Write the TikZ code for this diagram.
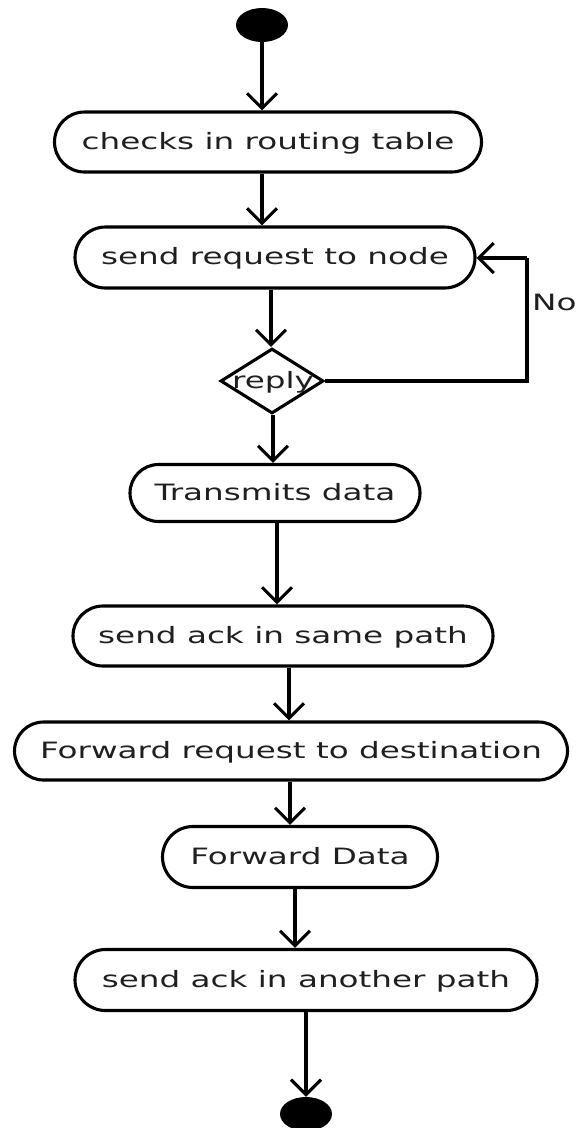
\documentclass[tikz,border=0pt]{standalone}
\usepackage{fontspec}
\setmainfont[FakeStretch=1.45]{DejaVu Sans}
\usetikzlibrary{arrows.meta,shapes.misc,shapes.geometric}
\tikzset{
  box/.style={rounded rectangle, draw=black, line width=3.1pt, inner sep=0pt,
    font=\fontsize{22.5}{27}\selectfont, text=black!88, text height=14pt, text depth=0pt},
  dot/.style={ellipse, fill=black, draw=none, minimum width=52pt, minimum height=34pt, inner sep=0pt},
  dec/.style={diamond, draw=black, line width=3.1pt, inner sep=0pt, minimum width=103pt, minimum height=65pt},
  lbl/.style={font=\fontsize{22.5}{27}\selectfont, text=black!88, inner sep=0pt},
  arr/.style={line width=3.1pt, -{Straight Barb[length=15pt,width=30pt]}},
  ln/.style={line width=3.1pt}
}
\begin{document}
\begin{tikzpicture}[x=1pt,y=1pt]
\useasboundingbox (0,0) rectangle (577,-1128);
\node[dot] (start) at (262,-25) {};
\node[box, minimum width=427pt, minimum height=60pt] (b1) at (268,-142) {checks in routing table};
\node[box, minimum width=400pt, minimum height=61pt] (b2) at (275,-257.5) {send request to node};
\node[dec] (d) at (272,-381) {};
\node[lbl, text height=14pt, text depth=0pt] (dl) at (273,-381) {reply};
\node[box, minimum width=290pt, minimum height=57pt] (b3) at (275,-493) {Transmits data};
\node[box, minimum width=420pt, minimum height=60pt] (b4) at (283,-636) {send ack in same path};
\node[box, minimum width=553pt, minimum height=58pt] (b5) at (291,-751) {Forward request to destination};
\node[box, minimum width=275pt, minimum height=61pt] (b6) at (300,-857) {Forward Data};
\node[box, minimum width=462pt, minimum height=61pt] (b7) at (306,-980) {send ack in another path};
\node[dot] (end) at (306,-1114) {};
\node[lbl, anchor=west] (no) at (532,-302) {No};
\coordinate (c1) at (527,-381);
\coordinate (c2) at (527,-258);

\draw[arr] (start.south) -- (start.south |- b1.north);
\draw[arr] ([xshift=-6pt]b1.south) -- ([xshift=-6pt]b1.south |- b2.north);
\draw[arr] ([xshift=-4pt]b2.south) -- ([xshift=-4pt]b2.south |- d.north);
\draw[arr] ([xshift=1pt]d.south) -- ([xshift=1pt]d.south |- b3.north);
\draw[arr] ([xshift=2pt]b3.south) -- ([xshift=2pt]b3.south |- b4.north);
\draw[arr] ([xshift=6pt]b4.south) -- ([xshift=6pt]b4.south |- b5.north);
\draw[arr] ([xshift=-1pt]b5.south) -- ([xshift=-1pt]b5.south |- b6.north);
\draw[arr] ([xshift=-5pt]b6.south) -- ([xshift=-5pt]b6.south |- b7.north);
\draw[arr] (b7.south) -- (end.north);
\draw[ln] (d.east) -- (c1) -- (c2);
\draw[arr] (c2) -- (b2.east |- c2);
\end{tikzpicture}
\end{document}
